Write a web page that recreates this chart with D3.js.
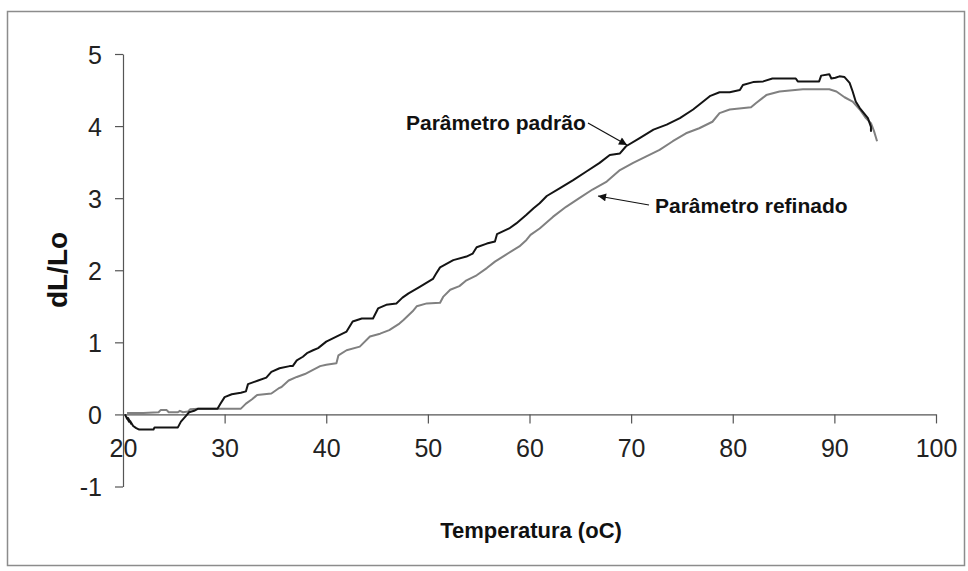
<!DOCTYPE html>
<html>
<head>
<meta charset="utf-8">
<script src="https://cdn.jsdelivr.net/npm/d3@7"></script>
<style>
  html, body { margin: 0; padding: 0; background: #fff; }
  svg { display: block; font-family: "Liberation Sans", Arial, sans-serif; }
</style>
</head>
<body>
<svg id="chart" width="968" height="571"></svg>
<script>
// Dilatometry curves: relative length change dL/Lo versus temperature
const xTicks = [20, 30, 40, 50, 60, 70, 80, 90, 100];
const yTicks = [-1, 0, 1, 2, 3, 4, 5];

const padraoTemp = [20.2, 20.4, 20.3, 20.6, 20.5, 20.8, 20.7, 21.0, 21.3, 21.6, 23.0, 23.1, 25.4, 25.7, 26.2, 26.5, 27.0, 27.4, 29.3, 29.6,
  30.0, 30.7, 31.6, 32.1, 32.3, 33.3, 34.1, 34.6, 35.4, 36.4, 36.7, 37.1, 37.7, 38.1, 38.7, 39.2, 40.0, 41.0, 42.0, 42.6,
  43.5, 44.6, 45.1, 45.9, 46.9, 47.5, 48.1, 49.2, 50.5, 50.8, 51.2, 52.5, 53.8, 54.4, 54.8, 55.8, 56.6, 56.8, 58.0, 58.7,
  59.7, 60.4, 61.0, 61.7, 63.0, 64.3, 65.6, 66.9, 67.9, 68.9, 69.5, 70.8, 72.2, 73.5, 74.8, 76.1, 77.0, 77.8, 78.7, 79.7,
  80.7, 81.0, 82.0, 83.0, 83.9, 86.2, 86.4, 88.5, 88.7, 89.5, 89.7, 90.1, 90.5, 91.0, 91.5, 91.8, 92.1, 92.5, 93.3, 93.6, 93.6];
const padraoValues = [0.0, -0.06, -0.03, -0.1, -0.05, -0.13, -0.09, -0.16, -0.19, -0.21, -0.21, -0.18, -0.18, -0.1, -0.02, 0.03, 0.05, 0.08, 0.08, 0.15,
  0.24, 0.28, 0.30, 0.32, 0.42, 0.47, 0.51, 0.59, 0.64, 0.67, 0.67, 0.75, 0.80, 0.85, 0.89, 0.92, 1.01, 1.08, 1.15, 1.29,
  1.33, 1.33, 1.47, 1.52, 1.54, 1.62, 1.68, 1.77, 1.88, 1.95, 2.04, 2.14, 2.19, 2.23, 2.32, 2.37, 2.40, 2.50, 2.58, 2.65,
  2.77, 2.86, 2.93, 3.03, 3.14, 3.25, 3.37, 3.49, 3.60, 3.62, 3.72, 3.83, 3.95, 4.02, 4.11, 4.23, 4.33, 4.42, 4.47, 4.47,
  4.50, 4.57, 4.61, 4.62, 4.66, 4.66, 4.62, 4.62, 4.70, 4.72, 4.66, 4.67, 4.69, 4.68, 4.60, 4.48, 4.34, 4.25, 4.11, 3.99, 3.92];

const refinadoTemp = [20.4, 21.5, 22.0, 23.5, 23.7, 24.3, 24.5, 25.4, 25.6, 25.9, 26.4, 26.6, 27.4, 31.6, 32.1, 32.7, 33.2, 34.6, 35.3, 35.6,
  36.3, 37.1, 37.9, 38.6, 39.4, 40.0, 41.0, 41.2, 42.0, 43.3, 44.3, 45.3, 46.2, 47.2, 47.6, 48.5, 48.9, 49.9, 51.2, 51.5,
  52.2, 53.1, 53.8, 54.8, 55.8, 56.6, 57.5, 58.4, 59.0, 59.7, 60.1, 61.0, 62.3, 63.6, 64.9, 66.2, 67.6, 68.9, 70.2, 71.5,
  72.8, 74.1, 75.4, 76.7, 78.0, 78.7, 79.7, 81.8, 82.3, 83.3, 84.6, 86.9, 89.5, 90.2, 91.0, 91.8, 92.5, 93.1, 93.6, 93.9, 94.2];
const refinadoValues = [0.02, 0.02, 0.02, 0.03, 0.06, 0.06, 0.03, 0.03, 0.05, 0.03, 0.04, 0.07, 0.08, 0.08, 0.15, 0.21, 0.27, 0.29, 0.36, 0.38,
  0.47, 0.52, 0.56, 0.61, 0.67, 0.69, 0.71, 0.82, 0.89, 0.94, 1.08, 1.12, 1.17, 1.26, 1.31, 1.43, 1.50, 1.54, 1.55, 1.63,
  1.73, 1.78, 1.86, 1.93, 2.03, 2.12, 2.20, 2.28, 2.33, 2.42, 2.49, 2.58, 2.74, 2.88, 3.00, 3.12, 3.23, 3.39, 3.49, 3.58,
  3.67, 3.79, 3.90, 3.97, 4.06, 4.18, 4.23, 4.26, 4.32, 4.43, 4.48, 4.51, 4.51, 4.48, 4.40, 4.34, 4.23, 4.11, 4.04, 3.93, 3.79];

const svg = d3.select("#chart");

// outer chart border
svg.append("rect")
  .attr("x", 7.5).attr("y", 11.5)
  .attr("width", 957).attr("height", 554)
  .attr("fill", "#fff")
  .attr("stroke", "#8c8c8c")
  .attr("stroke-width", 1.5);

const x = d3.scaleLinear().domain([20, 100]).range([123, 936]);
const y = d3.scaleLinear().domain([-1, 5]).range([486.5, 54]);

// plain hyphen for negatives, as in the spreadsheet labels
const fmt = d => String(d);

// x axis drawn along dL/Lo = 0, ticks hanging below
const xAxis = svg.append("g")
  .attr("transform", `translate(0,${y(0)})`)
  .call(d3.axisBottom(x).tickValues(xTicks).tickSize(9).tickSizeOuter(0).tickFormat(fmt));
xAxis.select(".domain").attr("stroke", "#555").attr("stroke-width", 1.2);
xAxis.selectAll(".tick line").attr("stroke", "#555").attr("stroke-width", 1.2)
  .filter(d => d === 20).remove();
xAxis.selectAll(".tick text")
  .attr("font-size", 25).attr("fill", "#222")
  .attr("font-family", "'Liberation Sans', Arial, sans-serif")
  .attr("dy", null).attr("y", 43);

// y axis at T = 20
const yAxis = svg.append("g")
  .attr("transform", `translate(${x(20)},0)`)
  .call(d3.axisLeft(y).tickValues(yTicks).tickSize(8).tickSizeOuter(0).tickFormat(fmt));
yAxis.select(".domain").attr("stroke", "#555").attr("stroke-width", 1.2);
yAxis.selectAll(".tick line").attr("stroke", "#555").attr("stroke-width", 1.2);
yAxis.selectAll(".tick text")
  .attr("font-size", 25).attr("fill", "#222")
  .attr("font-family", "'Liberation Sans', Arial, sans-serif")
  .attr("x", -21).attr("dy", "0.36em");

// axis titles
svg.append("text")
  .attr("x", 531).attr("y", 538)
  .attr("text-anchor", "middle")
  .attr("font-weight", "bold").attr("font-size", 22).attr("fill", "#111")
  .text("Temperatura (oC)");

svg.append("text")
  .attr("transform", `translate(67,270) rotate(-90)`)
  .attr("text-anchor", "middle")
  .attr("font-weight", "bold").attr("font-size", 28).attr("fill", "#111")
  .text("dL/Lo");

// curves
const line = d3.line().x(d => x(d[0])).y(d => y(d[1]));
const padrao = d3.zip(padraoTemp, padraoValues);
const refinado = d3.zip(refinadoTemp, refinadoValues);

svg.append("path").datum(refinado)
  .attr("d", line).attr("fill", "none")
  .attr("stroke", "#808080").attr("stroke-width", 2).attr("stroke-linejoin", "round");
svg.append("path").datum(padrao)
  .attr("d", line).attr("fill", "none")
  .attr("stroke", "#141414").attr("stroke-width", 2).attr("stroke-linejoin", "round");

// annotations with arrows
const defs = svg.append("defs");
defs.append("marker")
  .attr("id", "arrow").attr("viewBox", "0 0 10 10")
  .attr("refX", 10).attr("refY", 5)
  .attr("markerWidth", 10).attr("markerHeight", 8)
  .attr("markerUnits", "userSpaceOnUse")
  .attr("orient", "auto")
  .append("path").attr("d", "M0,0 L10,5 L0,10 Z").attr("fill", "#111");

svg.append("text")
  .attr("x", 406).attr("y", 130)
  .attr("font-weight", "bold").attr("font-size", 21).attr("fill", "#111")
  .text("Parâmetro padrão");
svg.append("line")
  .attr("x1", 588).attr("y1", 123).attr("x2", 627).attr("y2", 145)
  .attr("stroke", "#111").attr("stroke-width", 1.2)
  .attr("marker-end", "url(#arrow)");

svg.append("text")
  .attr("x", 655).attr("y", 213)
  .attr("font-weight", "bold").attr("font-size", 21).attr("fill", "#111")
  .text("Parâmetro refinado");
svg.append("line")
  .attr("x1", 649).attr("y1", 205).attr("x2", 598).attr("y2", 196)
  .attr("stroke", "#111").attr("stroke-width", 1.2)
  .attr("marker-end", "url(#arrow)");
</script>
</body>
</html>
